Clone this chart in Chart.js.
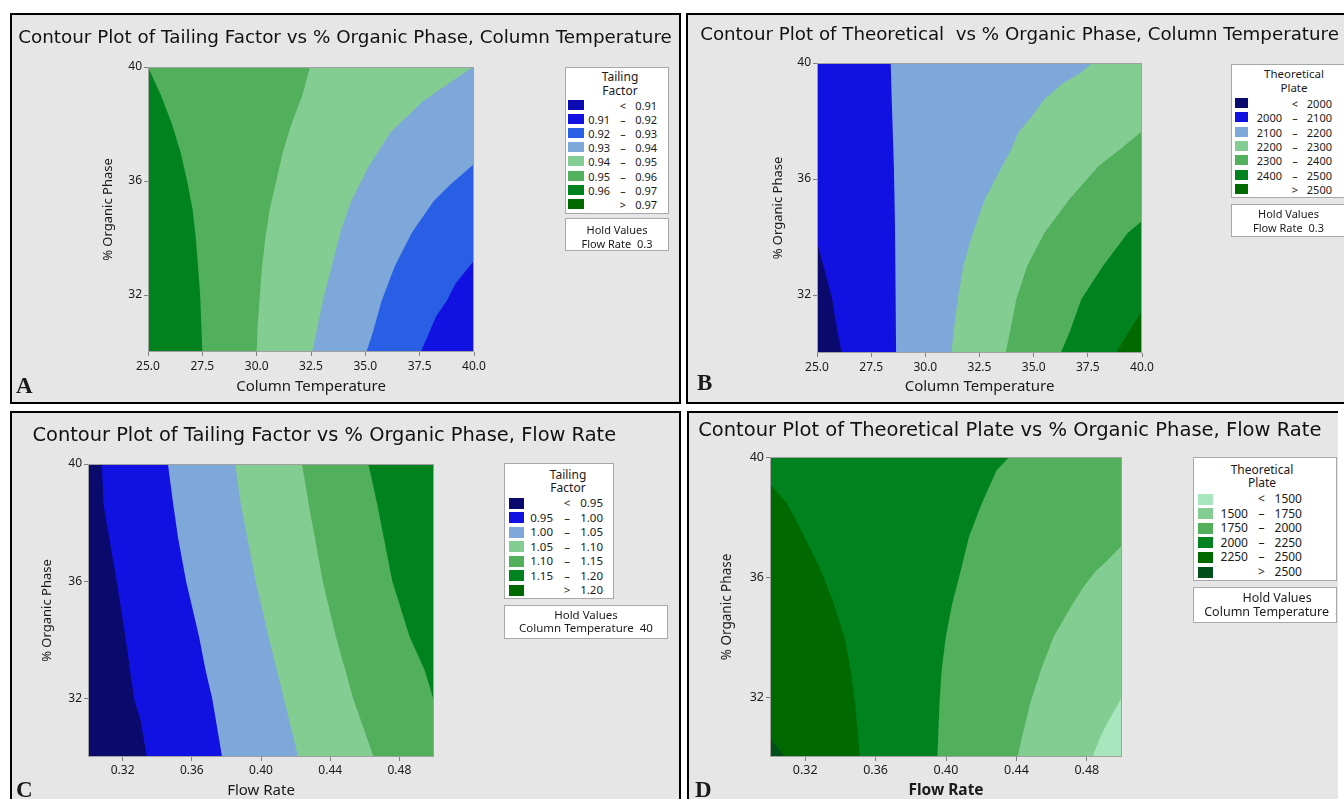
<!DOCTYPE html>
<html>
<head>
<meta charset="utf-8">
<title>Contour plots</title>
<script src="https://cdn.jsdelivr.net/npm/chart.js@4.4.1/dist/chart.umd.min.js"></script>
<style>
  html, body { margin: 0; padding: 0; background: #fff; width: 1344px; height: 799px; overflow: hidden;
               font-family: 'Noto Sans', sans-serif; color: #1a1a1a; }
  .panel { position: absolute; background: #e6e6e6; border: 2px solid #000; box-sizing: border-box; overflow: hidden; }
  .panel canvas { position: absolute; }
  .lbox { position: absolute; background: #fff; border: 1px solid #a8a8a8; box-sizing: border-box; overflow: hidden; }
  .tx { position: absolute; white-space: pre; line-height: 1; }
  .sw { position: absolute; }
  .tag { position: absolute; font-family: 'Liberation Serif', serif; font-weight: bold; font-size: 23px; line-height: 1; }
</style>
</head>
<body>
<script>
// ---- values ----
const tempTicks = [25, 27.5, 30, 32.5, 35, 37.5, 40];
const flowTicks = [0.32, 0.36, 0.40, 0.44, 0.48];
const organicTicks = [32, 36, 40];

// contour breaks shown in each legend
const tfTempBreaks = [0.91, 0.92, 0.93, 0.94, 0.95, 0.96, 0.97];
const tpTempBreaks = [2000, 2100, 2200, 2300, 2400, 2500];
const tfFlowBreaks = [0.95, 1.00, 1.05, 1.10, 1.15, 1.20];
const tpFlowBreaks = [1500, 1750, 2000, 2250, 2500];

// contour lines as [x, % organic], top to bottom
// A: tailing factor vs column temperature
const tfTemp096 = [[25.0, 40], [25.6, 39], [26.1, 38], [26.5, 37], [26.8, 36], [27.05, 35], [27.2, 34], [27.3, 33], [27.4, 32], [27.45, 31], [27.5, 30]];
const tfTemp095 = [[32.45, 40], [32.1, 39], [31.6, 38], [31.2, 37], [30.9, 36], [30.6, 35], [30.4, 34], [30.25, 33], [30.15, 32], [30.05, 31], [30.0, 30]];
const tfTemp094 = [[39.95, 40], [38.8, 39.4], [37.65, 38.8], [36.15, 37.7], [35.15, 36.5], [34.35, 35.3], [33.85, 34.2], [33.45, 33], [33.05, 31.8], [32.75, 30.7], [32.55, 30]];
const tfTemp093 = [[40, 36.6], [38.95, 35.9], [38.15, 35.3], [37.15, 34.2], [36.35, 33], [35.75, 31.8], [35.35, 30.7], [35.05, 30]];
const tfTemp092 = [[40, 33.2], [39.15, 32.4], [38.75, 31.8], [38.25, 31.25], [37.95, 30.7], [37.55, 30]];

// B: theoretical plate vs column temperature
const tpTemp2000 = [[25, 40], [25, 33.85], [25.3, 33], [25.7, 31.85], [25.95, 30.7], [26.15, 30]];
const tpTemp2100 = [[28.4, 40], [28.45, 38.7], [28.55, 36.4], [28.6, 34.4], [28.65, 30]];
const tpTemp2200 = [[37.7, 40], [37.15, 39.65], [36.35, 39.3], [35.5, 38.75], [34.9, 38.15], [34.3, 37.6], [33.95, 37.0], [33.55, 36.45], [32.75, 35.3], [32.2, 34.15], [31.75, 33.0], [31.5, 31.85], [31.3, 30.7], [31.2, 30]];
const tpTemp2300 = [[40, 37.65], [38.95, 37.0], [38.0, 36.45], [36.65, 35.3], [35.5, 34.15], [34.7, 33.0], [34.2, 31.85], [33.9, 30.7], [33.7, 30]];
const tpTemp2400 = [[40, 34.55], [39.35, 34.15], [38.2, 33.0], [37.2, 31.85], [36.65, 30.7], [36.25, 30]];
const tpTemp2500 = [[40, 31.45], [39.35, 30.7], [38.8, 30]];

// C: tailing factor vs flow rate
const tfFlow095 = [[0.308, 40], [0.309, 38.6], [0.3166, 36], [0.3216, 34.1], [0.3266, 32], [0.3304, 31.25], [0.334, 30]];
const tfFlow100 = [[0.3462, 40], [0.3492, 38.65], [0.352, 37.5], [0.3567, 36], [0.3642, 34.1], [0.368, 32.95], [0.3718, 32], [0.3775, 30]];
const tfFlow105 = [[0.3851, 40], [0.3883, 38.65], [0.3969, 36], [0.4044, 34.1], [0.4132, 32], [0.4215, 30]];
const tfFlow110 = [[0.4237, 40], [0.4275, 38.65], [0.4357, 36], [0.4433, 34.1], [0.4533, 32], [0.4651, 30]];
const tfFlow115 = [[0.4621, 40], [0.4671, 38.65], [0.4759, 36], [0.4859, 34.1], [0.4947, 32.95], [0.50, 31.9]];

// D: theoretical plate vs flow rate
const tpFlow2500 = [[0.30, 40], [0.30, 30.65], [0.3086, 30]];
const tpFlow2250 = [[0.30, 40], [0.30, 39.1], [0.3098, 38.45], [0.3194, 37.35], [0.3291, 36.2], [0.3363, 35.1], [0.3423, 34.0], [0.3459, 32.9], [0.3483, 31.8], [0.3511, 30]];
const tpFlow2000 = [[0.4359, 40], [0.4287, 39.55], [0.4203, 38.45], [0.4131, 37.35], [0.4083, 36.2], [0.4035, 35.1], [0.3999, 34.0], [0.3975, 32.9], [0.3963, 31.8], [0.3951, 30]];
const tpFlow1750 = [[0.50, 37.05], [0.4899, 36.45], [0.4851, 36.2], [0.4779, 35.65], [0.4719, 35.1], [0.4611, 34.0], [0.4539, 32.9], [0.4479, 31.8], [0.4431, 30.65], [0.4407, 30]];
const tpFlow1500 = [[0.50, 32.0], [0.4923, 31.2], [0.4875, 30.65], [0.4832, 30]];

// palettes (low -> high)
const blueGreen8 = ['#0c0cb2', '#1111e2', '#285fe4', '#7ea8d9', '#84cd92', '#52af5b', '#00821f', '#006a00'];
const blueGreen7 = ['#0a0a6c', '#1111e2', '#7ea8d9', '#84cd92', '#52af5b', '#00821f', '#006a00'];
const greens6 = ['#a8e6be', '#84cd92', '#52af5b', '#00821f', '#006a00', '#00501c'];

const titleFamily = "'DejaVu Sans', sans-serif";
Chart.defaults.font.family = "'Noto Sans', sans-serif";
Chart.defaults.color = '#1a1a1a';

function legendRows(breaks, dec) {
  const f = v => v.toFixed(dec);
  const rows = [['', '<', f(breaks[0])]];
  for (let i = 1; i < breaks.length; i++) rows.push([f(breaks[i - 1]), '–', f(breaks[i])]);
  rows.push(['', '>', f(breaks[breaks.length - 1])]);
  return rows;
}

// layout of the four panels (page pixels); plot = [left, top, right, bottom]
const panels = [
  { box: [10, 13, 671, 391], canvas: [12, 15, 667, 387], plot: [148, 67, 474, 352],
    title: 'Contour Plot of Tailing Factor vs % Organic Phase, Column Temperature', titleW: 654, titleCx: 345, titleY: 38.5,
    xMin: 25, xMax: 40, xTicks: tempTicks, xDec: 1, xTitle: 'Column Temperature', xTitleFont: 15, xTitleWeight: 'normal', xTitlePad: 6.5,
    tickFont: 12, xTickPad: 3, yTitleFont: 13, yTitleCx: 108.5,
    colors: blueGreen8, base: 6,
    bands: [[tfTemp096, 5], [tfTemp095, 4], [tfTemp094, 3], [tfTemp093, 2], [tfTemp092, 1]],
    legend: { rect: [565, 67, 104, 147], title: ['Tailing', 'Factor'], titleCx: 620, titleY: [77, 91], titleFont: 12,
              rows: legendRows(tfTempBreaks, 2), row0: 105, gap: 14.1, sw: [568, 16, 10], lowR: 610, sym: 623, highR: 657, font: 11 },
    hold: { rect: [565, 218, 104, 33], lines: ['Hold Values', 'Flow Rate  0.3'], ys: [229, 243], cx: 617, font: 11 },
    tag: ['A', 16, 393] },
  { box: [686, 13, 672, 391], canvas: [688, 15, 668, 387], plot: [817, 63, 1142, 353],
    title: 'Contour Plot of Theoretical  vs % Organic Phase, Column Temperature', titleW: 639, titleCx: 1019.5, titleY: 35.5,
    xMin: 25, xMax: 40, xTicks: tempTicks, xDec: 1, xTitle: 'Column Temperature', xTitleFont: 15, xTitleWeight: 'normal', xTitlePad: 6,
    tickFont: 12, xTickPad: 3, yTitleFont: 13, yTitleCx: 778,
    colors: blueGreen7, base: 0,
    bands: [[tpTemp2000, 1], [tpTemp2100, 2], [tpTemp2200, 3], [tpTemp2300, 4], [tpTemp2400, 5], [tpTemp2500, 6]],
    legend: { rect: [1231, 64, 126, 134], title: ['Theoretical', 'Plate'], titleCx: 1294, titleY: [74, 88.3], titleFont: 11.5,
              rows: legendRows(tpTempBreaks, 0), row0: 103, gap: 14.3, sw: [1235, 13, 10], lowR: 1282, sym: 1295, highR: 1332, font: 11 },
    hold: { rect: [1231, 204, 126, 33], lines: ['Hold Values', 'Flow Rate  0.3'], ys: [213.3, 227.3], cx: 1288.5, font: 11 },
    tag: ['B', 697, 390] },
  { box: [10, 411, 671, 400], canvas: [12, 413, 667, 396], plot: [88, 464, 434, 757],
    title: 'Contour Plot of Tailing Factor vs % Organic Phase, Flow Rate', titleW: 584, titleCx: 324.3, titleY: 436,
    xMin: 0.30, xMax: 0.50, xTicks: flowTicks, xDec: 2, xTitle: 'Flow Rate', xTitleFont: 15, xTitleWeight: 'normal', xTitlePad: 9.3,
    tickFont: 12, xTickPad: 2, yTitleFont: 13, yTitleCx: 47.5,
    colors: blueGreen7, base: 0,
    bands: [[tfFlow095, 1], [tfFlow100, 2], [tfFlow105, 3], [tfFlow110, 4], [tfFlow115, 5]],
    legend: { rect: [504, 463, 110, 136], title: ['Tailing', 'Factor'], titleCx: 568, titleY: [475, 488.3], titleFont: 12,
              rows: legendRows(tfFlowBreaks, 2), row0: 503, gap: 14.5, sw: [509, 15, 11], lowR: 553, sym: 567, highR: 603, font: 11.5 },
    hold: { rect: [504, 605, 164, 34], lines: ['Hold Values', 'Column Temperature  40'], ys: [614.7, 628], cx: 586, font: 11.5 },
    tag: ['C', 16, 797] },
  { box: [687, 411, 651, 400], noRight: true, canvas: [689, 413, 668, 396], plot: [770, 457, 1122, 757],
    title: 'Contour Plot of Theoretical Plate vs % Organic Phase, Flow Rate', titleW: 624, titleCx: 1009.8, titleY: 430.5,
    xMin: 0.30, xMax: 0.50, xTicks: flowTicks, xDec: 2, xTitle: 'Flow Rate', xTitleFont: 15.5, xTitleWeight: 'bold', xTitlePad: 8.7,
    tickFont: 12.5, xTickPad: 2.2, yTitleFont: 13.5, yTitleCx: 727.5,
    colors: greens6, base: 5,
    bands: [[tpFlow2500, 4], [tpFlow2250, 3], [tpFlow2000, 2], [tpFlow1750, 1], [tpFlow1500, 0]],
    legend: { rect: [1193, 457, 144, 124], title: ['Theoretical', 'Plate'], titleCx: 1262, titleY: [469.7, 483], titleFont: 12,
              rows: legendRows(tpFlowBreaks, 0), row0: 499, gap: 14.6, sw: [1198, 15, 11], lowR: 1248, sym: 1261.5, highR: 1302, font: 12 },
    hold: { rect: [1193, 587, 144, 36], lines: ['Hold Values', 'Column Temperature  40'], ys: [598.3, 612.3], cx: 1277, font: 12.5 },
    tag: ['D', 695, 797] }
];

// font size that makes a title span the width it has in the figure
const measureCtx = document.createElement('canvas').getContext('2d');
function fitSize(str, width) {
  measureCtx.font = '100px ' + titleFamily;
  return 100 * width / measureCtx.measureText(str).width;
}

// thin grey frame round the plot area
const framePlugin = {
  id: 'frame',
  afterDatasetsDraw(chart) {
    const { ctx, chartArea: a } = chart;
    ctx.save();
    ctx.strokeStyle = '#a0a0a0';
    ctx.lineWidth = 1;
    ctx.strokeRect(a.left + 0.5, a.top + 0.5, a.width - 1, a.height - 1);
    ctx.restore();
  }
};

function el(tag, cls, parent, css) {
  const e = document.createElement(tag);
  if (cls) e.className = cls;
  Object.assign(e.style, css || {});
  parent.appendChild(e);
  return e;
}

function text(parent, str, x, y, align, size) {
  const d = el('div', 'tx', parent, { left: x + 'px', top: y + 'px', fontSize: size + 'px' });
  d.textContent = str;
  const tx = align === 'r' ? '-100%' : align === 'c' ? '-50%' : '0';
  d.style.transform = `translate(${tx}, -50%)`;
  return d;
}

function buildDatasets(p) {
  const yMin = 30, yMax = 40;
  const sets = [{
    data: [{ x: p.xMin, y: yMax }, { x: p.xMax, y: yMax }, { x: p.xMax, y: yMin }, { x: p.xMin, y: yMin }],
    backgroundColor: p.colors[p.base]
  }];
  p.bands.forEach(([line, level]) => {
    const pts = line.map(([x, y]) => ({ x, y }));
    pts.push({ x: p.xMax, y: yMin }, { x: p.xMax, y: yMax });
    sets.push({ data: pts, backgroundColor: p.colors[level] });
  });
  return sets.map((s, i) => Object.assign(s, {
    showLine: true, fill: 'shape', borderWidth: 0, borderColor: 'transparent',
    pointRadius: 0, pointHoverRadius: 0, order: -i, xAxisID: 'x', yAxisID: 'y'
  }));
}

function chartConfig(p) {
  const tickGrid = { display: true, drawOnChartArea: false, drawTicks: true, tickLength: 4, tickColor: '#808080' };
  const [cLeft, cTop, cW, cH] = p.canvas;
  const [pL, pT, pR, pB] = p.plot;
  // the title box runs from the canvas left edge to a right edge chosen so that it is centred on titleCx
  const titleRight = 2 * p.titleCx - cLeft;
  const padRight = cLeft + cW - titleRight;
  const gutterW = titleRight - pR;
  const yW = pL - cLeft;
  const yTitlePad = p.yTitleCx - cLeft - p.yTitleFont * 1.2 / 2;
  const xH = cTop + cH - pB;

  const tSize = fitSize(p.title, p.titleW);
  const tLine = tSize * 1.2;
  const tTop = p.titleY - cTop - tLine / 2;
  const tBottom = pT - cTop - tTop - tLine;
  return {
    type: 'scatter',
    data: { datasets: buildDatasets(p) },
    options: {
      responsive: false,
      animation: false,
      events: [],
      layout: { padding: { left: 0, right: padRight, top: 0, bottom: 0 } },
      plugins: {
        legend: { display: false },
        tooltip: { enabled: false },
        title: {
          display: true,
          text: p.title,
          color: '#111',
          font: { family: titleFamily, size: tSize, weight: 'normal', lineHeight: 1.2 },
          padding: { top: tTop, bottom: tBottom }
        }
      },
      scales: {
        x: {
          type: 'linear', min: p.xMin, max: p.xMax,
          afterBuildTicks: s => { s.ticks = p.xTicks.map(v => ({ value: v })); },
          afterFit: s => { s.height = xH; },
          grid: tickGrid,
          border: { display: false },
          ticks: {
            autoSkip: false, maxRotation: 0, padding: p.xTickPad, color: '#1a1a1a',
            font: { size: p.tickFont },
            callback: v => Number(v).toFixed(p.xDec)
          },
          title: {
            display: true, text: p.xTitle, color: '#1a1a1a',
            font: { size: p.xTitleFont, weight: p.xTitleWeight },
            padding: { top: 0, bottom: p.xTitlePad }
          }
        },
        y: {
          type: 'linear', min: 30, max: 40,
          afterBuildTicks: s => { s.ticks = organicTicks.map(v => ({ value: v })); },
          afterFit: s => { s.width = yW; },
          grid: tickGrid,
          border: { display: false },
          ticks: { autoSkip: false, padding: 2, color: '#1a1a1a', font: { size: p.tickFont } },
          title: {
            display: true, text: '% Organic Phase', color: '#1a1a1a',
            font: { size: p.yTitleFont, weight: 'normal', lineHeight: 1.2 },
            padding: { top: yTitlePad, bottom: 0 }
          }
        },
        // empty right-hand gutter where the legend boxes sit
        gutter: {
          type: 'linear', position: 'right',
          afterFit: s => { s.width = gutterW; },
          grid: { display: false },
          border: { display: false },
          ticks: { display: false }
        }
      }
    },
    plugins: [framePlugin]
  };
}

panels.forEach(p => {
  const [bx, by, bw, bh] = p.box;
  const pane = el('div', 'panel', document.body, { left: bx + 'px', top: by + 'px', width: bw + 'px', height: bh + 'px' });
  if (p.noRight) pane.style.borderRight = 'none';
  const ox = bx + 2, oy = by + 2;

  const [cx, cy, cw, ch] = p.canvas;
  const cv = el('canvas', null, pane, { left: (cx - ox) + 'px', top: (cy - oy) + 'px', width: cw + 'px', height: ch + 'px' });
  cv.width = cw;
  cv.height = ch;
  new Chart(cv, chartConfig(p));

  // legend box
  const L = p.legend;
  const lb = el('div', 'lbox', pane, { left: (L.rect[0] - ox) + 'px', top: (L.rect[1] - oy) + 'px', width: L.rect[2] + 'px', height: L.rect[3] + 'px' });
  const lx = L.rect[0] + 1, ly = L.rect[1] + 1;
  L.title.forEach((t, i) => text(lb, t, L.titleCx - lx, L.titleY[i] - ly, 'c', L.titleFont));
  L.rows.forEach((r, i) => {
    const yc = L.row0 + i * L.gap;
    el('div', 'sw', lb, {
      left: (L.sw[0] - lx) + 'px', top: (yc - L.sw[2] / 2 - ly) + 'px',
      width: L.sw[1] + 'px', height: L.sw[2] + 'px', background: p.colors[i]
    });
    if (r[0]) text(lb, r[0], L.lowR - lx, yc - ly, 'r', L.font);
    text(lb, r[1], L.sym - lx, yc - ly, 'c', L.font);
    text(lb, r[2], L.highR - lx, yc - ly, 'r', L.font);
  });

  // hold values box
  const H = p.hold;
  const hb = el('div', 'lbox', pane, { left: (H.rect[0] - ox) + 'px', top: (H.rect[1] - oy) + 'px', width: H.rect[2] + 'px', height: H.rect[3] + 'px' });
  H.lines.forEach((t, i) => text(hb, t, H.cx - H.rect[0] - 1, H.ys[i] - H.rect[1] - 1, 'c', H.font));

  // panel letter
  const tg = el('div', 'tag', pane, { left: (p.tag[1] - ox) + 'px', top: (p.tag[2] - 19.3 - oy) + 'px' });
  tg.textContent = p.tag[0];
});
</script>
</body>
</html>
